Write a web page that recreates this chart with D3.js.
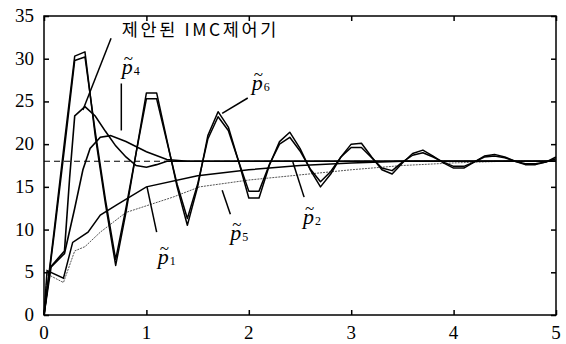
<!DOCTYPE html>
<html>
<head>
<meta charset="utf-8">
<script src="https://cdn.jsdelivr.net/npm/d3@7"></script>
<style>
  body { margin: 0; background: #fff; }
  svg { display: block; }
</style>
</head>
<body>
<div id="chart"></div>
<script>
// sample times of the oscillating responses
const timeGrid = [0, 0.1, 0.2, 0.3, 0.4, 0.5, 0.6, 0.7, 0.8, 0.9,
                  1.0, 1.1, 1.2, 1.3, 1.4, 1.5, 1.6, 1.7, 1.8, 1.9,
                  2.0, 2.1, 2.2, 2.3, 2.4, 2.5, 2.6, 2.7, 2.8, 2.9,
                  3.0, 3.1, 3.2, 3.3, 3.4, 3.5, 3.6, 3.7, 3.8, 3.9,
                  4.0, 4.1, 4.2, 4.3, 4.4, 4.5, 4.6, 4.7, 4.8, 4.9, 5.0];

const p6Vals = [0, 10, 20.3, 30.3, 30.8, 21, 13, 5.8, 12, 19,
                26, 26, 20.5, 15, 10.5, 15, 21, 23.8, 22, 18,
                13.7, 13.7, 17.5, 20.3, 21.4, 19.5, 17, 15.0, 16.5, 18.5,
                20.0, 20.1, 18.5, 17.0, 16.5, 17.8, 18.9, 19.3, 18.6, 17.8,
                17.2, 17.2, 17.9, 18.6, 18.8, 18.5, 18.0, 17.6, 17.6, 17.9, 18.5];

const p2Vals = [0, 9.5, 19.5, 29.8, 30.2, 21.5, 13.5, 6.5, 12.5, 19,
                25.3, 25.3, 20.3, 15.3, 11.3, 15.3, 20.6, 23.2, 21.6, 18,
                14.5, 14.5, 17.6, 20, 20.8, 19.2, 17.1, 15.6, 16.8, 18.5,
                19.6, 19.6, 18.4, 17.2, 16.9, 17.9, 18.7, 19.0, 18.5, 17.9,
                17.4, 17.4, 17.9, 18.5, 18.6, 18.4, 18.0, 17.7, 17.7, 17.9, 18.3];

// proposed IMC controller
const imcT = [0, 0.07, 0.2, 0.25, 0.3, 0.4, 0.5, 0.6, 0.7, 0.8, 0.9, 1.0, 1.1, 1.2, 5.0];
const imcV = [0, 5.7, 7.5, 16, 23.3, 24.4, 23.3, 21.5, 19.8, 18.5, 17.5, 17.3, 17.6, 18.0, 18.0];

const p4T = [0, 0.06, 0.2, 0.3, 0.38, 0.45, 0.55, 0.65, 0.8, 1.0, 1.2, 1.4, 5.0];
const p4V = [0, 5.5, 7.2, 12.5, 17, 19.5, 20.8, 21.0, 20.3, 19.1, 18.2, 18.0, 18.0];

const p1T = [0, 0.03, 0.19, 0.28, 0.43, 0.55, 0.71, 1.0, 1.5, 2.0, 2.5, 3.0, 3.5, 5.0];
const p1V = [0, 5.2, 4.3, 8.5, 9.7, 11.7, 12.9, 15.0, 16.3, 17.0, 17.5, 17.8, 18.0, 18.0];

const p5T = [0, 0.03, 0.19, 0.3, 0.4, 0.55, 0.8, 1.26, 1.52, 2.0, 2.5, 3.0, 3.5, 4.0, 4.5, 5.0];
const p5V = [0, 4.8, 3.8, 7.5, 8.0, 9.7, 12.0, 13.8, 15.0, 15.8, 16.4, 17.0, 17.5, 17.8, 18.0, 18.0];

const setpoint = 18;

const xTicks = [0, 1, 2, 3, 4, 5];
const yTicks = [0, 5, 10, 15, 20, 25, 30, 35];

const W = 566, H = 344;
const MARGINS = {left: 44, right: 10, top: 16, bottom: 29};
const SERIF = "Liberation Serif";

const svg = d3.select("#chart").append("svg")
    .attr("width", W).attr("height", H);

const X_SCALE = d3.scaleLinear().domain([0, 5]).range([MARGINS.left, W - MARGINS.right]);
const Y_SCALE = d3.scaleLinear().domain([0, 35]).range([H - MARGINS.bottom, MARGINS.top]);

const line = d3.line().x(d => X_SCALE(d[0])).y(d => Y_SCALE(d[1]));
const zipT = (ts, vs) => ts.map((t, i) => [t, vs[i]]);

// set point
svg.append("line")
    .attr("x1", X_SCALE(0)).attr("x2", X_SCALE(5))
    .attr("y1", Y_SCALE(setpoint)).attr("y2", Y_SCALE(setpoint))
    .attr("stroke", "#000").attr("stroke-width", 1.2)
    .attr("stroke-dasharray", "6,4");

// slow responses
svg.append("path").datum(zipT(p5T, p5V))
    .attr("d", line).attr("fill", "none")
    .attr("stroke", "#555").attr("stroke-width", 1).attr("stroke-dasharray", "2,1");
svg.append("path").datum(zipT(p1T, p1V))
    .attr("d", line).attr("fill", "none")
    .attr("stroke", "#000").attr("stroke-width", 1.5);

svg.append("path").datum(zipT(p4T, p4V))
    .attr("d", line).attr("fill", "none")
    .attr("stroke", "#000").attr("stroke-width", 1.6);
svg.append("path").datum(zipT(imcT, imcV))
    .attr("d", line).attr("fill", "none")
    .attr("stroke", "#000").attr("stroke-width", 1.6);

// oscillating responses
[p6Vals, p2Vals].forEach(vals => {
  svg.append("path").datum(zipT(timeGrid, vals))
      .attr("d", line).attr("fill", "none")
      .attr("stroke", "#000").attr("stroke-width", 1.5)
      .attr("stroke-linejoin", "round");
});

// frame
svg.append("rect")
    .attr("x", X_SCALE(0)).attr("y", Y_SCALE(35))
    .attr("width", X_SCALE(5) - X_SCALE(0)).attr("height", Y_SCALE(0) - Y_SCALE(35))
    .attr("fill", "none").attr("stroke", "#000").attr("stroke-width", 1.5);

// ticks inward on all four sides
const axBottom = svg.append("g")
    .attr("transform", "translate(0," + Y_SCALE(0) + ")")
    .call(d3.axisBottom(X_SCALE).tickValues(xTicks).tickFormat("").tickSizeInner(-5).tickSizeOuter(0));
const axLeft = svg.append("g")
    .attr("transform", "translate(" + X_SCALE(0) + ",0)")
    .call(d3.axisLeft(Y_SCALE).tickValues(yTicks).tickFormat("").tickSizeInner(-5).tickSizeOuter(0));
const axTop = svg.append("g")
    .attr("transform", "translate(0," + Y_SCALE(35) + ")")
    .call(d3.axisTop(X_SCALE).tickValues(xTicks).tickSizeInner(-5).tickSizeOuter(0).tickFormat(""));
const axRight = svg.append("g")
    .attr("transform", "translate(" + X_SCALE(5) + ",0)")
    .call(d3.axisRight(Y_SCALE).tickValues(yTicks).tickSizeInner(-5).tickSizeOuter(0).tickFormat(""));

[axBottom, axLeft, axTop, axRight].forEach(g => {
  g.select(".domain").remove();
  g.selectAll(".tick line").attr("stroke", "#000").attr("stroke-width", 1.5);
  g.selectAll(".tick text").remove();
});

// tick labels in serif
svg.append("g").selectAll("text").data(xTicks).join("text")
    .attr("x", d => X_SCALE(d)).attr("y", Y_SCALE(0) + 24)
    .attr("text-anchor", "middle")
    .attr("font-family", SERIF).attr("font-size", 19)
    .text(d => d);
svg.append("g").selectAll("text").data(yTicks).join("text")
    .attr("x", X_SCALE(0) - 10).attr("y", d => Y_SCALE(d) + 6)
    .attr("text-anchor", "end")
    .attr("font-family", SERIF).attr("font-size", 19)
    .text(d => d);

// annotation pointers
const pointers = [
  [[0.655, 32.4], [0.38, 24.0]],
  [[0.755, 27.1], [0.755, 21.6]],
  [[1.99, 25.4], [1.74, 23.6]],
  [[1.006, 15.0], [1.10, 9.7]],
  [[1.74, 14.6], [1.82, 11.8]],
  [[2.43, 17.9], [2.54, 13.8]]
];
pointers.forEach(p => {
  svg.append("path").datum(p).attr("d", line)
      .attr("stroke", "#000").attr("stroke-width", 1.5).attr("fill", "none");
});

// IMC label
svg.append("text")
    .attr("x", X_SCALE(0.76)).attr("y", Y_SCALE(32.7))
    .attr("font-family", "Noto Sans CJK KR")
    .attr("font-size", 17.5).attr("letter-spacing", 2.6)
    .text("제안된 IMC제어기");

// p~ labels
const pLabels = [
  {sub: "4", t: 0.76, y: 28.2},
  {sub: "6", t: 2.03, y: 26.3},
  {sub: "1", t: 1.11, y: 5.96},
  {sub: "5", t: 1.82, y: 8.77},
  {sub: "2", t: 2.53, y: 10.6}
];
pLabels.forEach(l => {
  const x = X_SCALE(l.t), y = Y_SCALE(l.y);
  const g = svg.append("g").attr("fill", "#000").attr("font-family", SERIF);
  g.append("text").attr("x", x).attr("y", y)
      .attr("font-size", 22).attr("font-style", "italic").text("p");
  g.append("text").attr("x", x + 2).attr("y", y - 10)
      .attr("font-size", 17).text("~");
  g.append("text").attr("x", x + 12).attr("y", y + 1)
      .attr("font-size", 12).text(l.sub);
});
</script>
</body>
</html>
